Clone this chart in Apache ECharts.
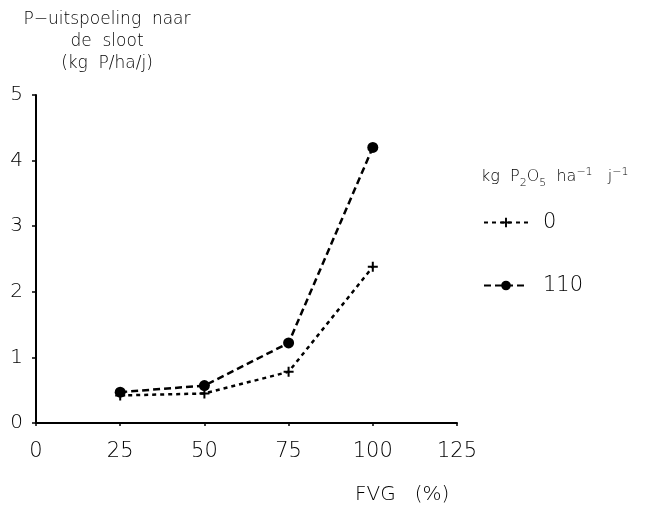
<!DOCTYPE html>
<html>
<head>
<meta charset="utf-8">
<script src="https://cdn.jsdelivr.net/npm/echarts@6/dist/echarts.min.js"></script>
<style>
  html, body { margin: 0; padding: 0; background: #fff; }
  #main { width: 648px; height: 519px; }
</style>
</head>
<body>
<div id="main"></div>
<script>
  // FVG (%) op de x-as
  var fvg = [25, 50, 75, 100];
  // P-uitspoeling bij 0 en 110 kg P2O5
  var dose0 = [0.42, 0.45, 0.78, 2.38];
  var dose110 = [0.47, 0.57, 1.22, 4.2];
  var seriesNames = ['0', '110'];

  var plusPath = 'path://M4,0H6V4H10V6H6V10H4V6H0V4H4Z';
  var font = 'DejaVu Sans';
  var weight = 200;

  function pairs(xs, ys) {
    return xs.map(function (x, i) { return [x, ys[i]]; });
  }

  var option = {
    backgroundColor: '#fff',
    animation: false,
    textStyle: { fontFamily: font, color: '#000', fontWeight: weight },
    title: {
      text: 'P\u2212uitspoeling  naar\nde  sloot\n(kg  P/ha/j)',
      left: 102,
      top: 4,
      textAlign: 'center',
      textStyle: { fontSize: 17, fontWeight: weight, color: '#000', lineHeight: 22, fontFamily: font }
    },
    grid: { left: 36, right: 191, top: 95, bottom: 96 },
    legend: {
      orient: 'vertical',
      left: 478,
      top: 207,
      itemWidth: 44,
      itemHeight: 12,
      itemGap: 42,
      data: seriesNames,
      textStyle: { fontSize: 21, fontWeight: weight, color: '#000', fontFamily: font, padding: [0, 0, 0, 10] }
    },
    graphic: [{
      type: 'text',
      left: 481,
      top: 167,
      style: {
        text: '{n|kg  P}{s|2}{n|O}{s|5}{n|  ha}{u|\u22121}{n|   j}{u|\u22121}',
        rich: {
          n: { fontSize: 16, fontFamily: font, fontWeight: weight, fill: '#000', verticalAlign: 'bottom' },
          s: { fontSize: 11, fontFamily: font, fontWeight: weight, fill: '#000', padding: [0, 0, -4, 0], verticalAlign: 'bottom' },
          u: { fontSize: 11, fontFamily: font, fontWeight: weight, fill: '#000', padding: [0, 0, 7, 0], verticalAlign: 'bottom' }
        }
      }
    }, {
      type: 'text',
      left: 355,
      top: 485,
      style: { text: 'FVG   (%)', fontSize: 20, fontWeight: weight, fontFamily: font, fill: '#000' }
    }],
    xAxis: {
      type: 'value',
      min: 0,
      max: 125,
      interval: 25,
      splitLine: { show: false },
      axisLine: { show: true, onZero: false, lineStyle: { color: '#000', width: 2 } },
      axisTick: { show: true, length: 3, lineStyle: { color: '#000', width: 1.5 } },
      axisLabel: { fontSize: 21, fontWeight: weight, color: '#000', margin: 18, fontFamily: font }
    },
    yAxis: {
      type: 'value',
      min: 0,
      max: 5,
      interval: 1,
      splitLine: { show: false },
      axisLine: { show: true, lineStyle: { color: '#000', width: 2 } },
      axisTick: { show: true, length: 4, lineStyle: { color: '#000', width: 1.5 } },
      axisLabel: { fontSize: 20, fontWeight: weight, color: '#000', margin: 13, fontFamily: font }
    },
    series: [{
      name: seriesNames[0],
      type: 'line',
      data: pairs(fvg, dose0),
      symbol: plusPath,
      symbolSize: 10,
      itemStyle: { color: '#000' },
      lineStyle: { color: '#000', width: 2.5, type: [4, 4] }
    }, {
      name: seriesNames[1],
      type: 'line',
      data: pairs(fvg, dose110),
      symbol: 'circle',
      symbolSize: 11,
      itemStyle: { color: '#000' },
      lineStyle: { color: '#000', width: 2.5, type: [7, 4] }
    }]
  };

  echarts.init(document.getElementById('main')).setOption(option);
</script>
</body>
</html>
